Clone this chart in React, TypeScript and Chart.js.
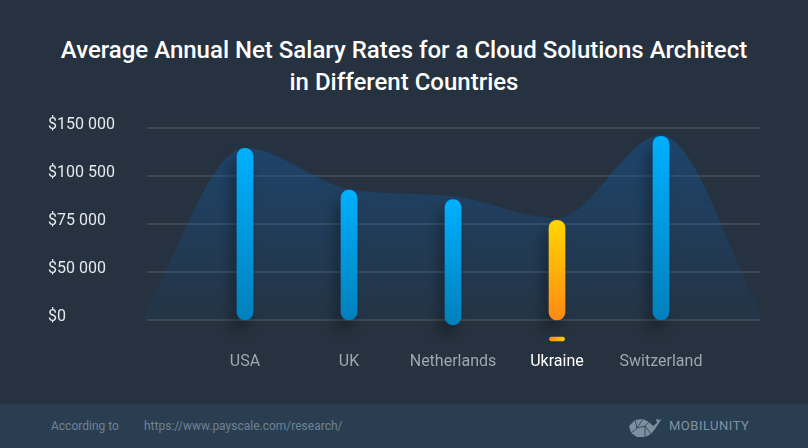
import React, { useEffect, useRef } from "react";
import { Chart, registerables } from "chart.js";

Chart.register(...registerables);

const categories = ["", "USA", "UK", "Netherlands", "Ukraine", "Switzerland", ""];
const salaryTop: (number | null)[] = [null, 129000, 93000, 88000, 77000, 141500, null];
const salaryBase: (number | null)[] = [null, 0, 0, -5000, 0, 0, null];
const trendValues = [0, 129500, 93600, 89800, 78200, 142600, 0];
const markerLow: (number | null)[] = [null, null, null, null, -21900, null, null];
const markerHigh: (number | null)[] = [null, null, null, null, -17700, null, null];
const yTickValues = [0, 50000, 75000, 100500, 150000];
const yTickLabels = ["$0", "$50 000", "$75 000", "$100 500", "$150 000"];
const highlightCategory = "Ukraine";

// map a dollar value onto the evenly spaced (piecewise) axis used by the picture
function toAxis(v: number): number {
  const t = yTickValues;
  if (v <= t[0]) return (v - t[0]) / (t[1] - t[0]);
  for (let i = 0; i < t.length - 1; i++) {
    if (v <= t[i + 1]) return i + (v - t[i]) / (t[i + 1] - t[i]);
  }
  const n = t.length - 1;
  return n + (v - t[n]) / (t[n] - t[n - 1]);
}

const barData = categories.map((_, i) =>
  salaryTop[i] == null ? null : [toAxis(salaryBase[i] as number), toAxis(salaryTop[i] as number)]
);
const markerData = categories.map((_, i) =>
  markerLow[i] == null ? null : [toAxis(markerLow[i] as number), toAxis(markerHigh[i] as number)]
);
const trendData = trendValues.map((v) => toAxis(v));

export default function App() {
  const ref = useRef<HTMLCanvasElement | null>(null);

  useEffect(() => {
    document.body.style.margin = "0";
    Chart.defaults.font.family = "Roboto";
    const canvas = ref.current!;

    const gridPlugin = {
      id: "insetGrid",
      beforeDatasetsDraw(chart: any) {
        const { ctx, chartArea } = chart;
        const y = chart.scales.y;
        ctx.save();
        ctx.strokeStyle = "rgba(255,255,255,0.11)";
        ctx.lineWidth = 2;
        yTickValues.forEach((_, i) => {
          const py = Math.round(y.getPixelForValue(i));
          ctx.beginPath();
          ctx.moveTo(chartArea.left + 6, py);
          ctx.lineTo(chartArea.right - 5, py);
          ctx.stroke();
        });
        ctx.restore();
      },
    };

    const shadowPlugin = {
      id: "barShadow",
      beforeDatasetDraw(chart: any, args: any) {
        if (args.index !== 0) return;
        const ctx = chart.ctx;
        ctx.save();
        ctx.shadowColor = "rgba(0,0,0,0.3)";
        ctx.shadowBlur = 14;
        ctx.shadowOffsetX = -6;
        ctx.shadowOffsetY = 10;
      },
      afterDatasetDraw(chart: any, args: any) {
        if (args.index !== 0) return;
        chart.ctx.restore();
      },
    };

    const chart = new Chart(canvas, {
      type: "bar",
      data: {
        labels: categories,
        datasets: [
          {
            type: "bar",
            data: barData as any,
            grouped: false,
            barThickness: 16,
            borderRadius: 8,
            borderSkipped: false,
            order: 1,
            backgroundColor: (c: any) => {
              const chart = c.chart;
              if (!chart.chartArea || c.type !== "data" || !c.raw) return "#00a0e8";
              const y = chart.scales.y;
              const [a, b] = c.raw;
              const top = y.getPixelForValue(Math.max(a, b));
              const bot = y.getPixelForValue(Math.min(a, b));
              const g = chart.ctx.createLinearGradient(0, top, 0, bot);
              if (categories[c.dataIndex] === highlightCategory) {
                g.addColorStop(0, "#ffd600");
                g.addColorStop(1, "#ff8a14");
              } else {
                g.addColorStop(0, "#00b0ff");
                g.addColorStop(1, "#0080bc");
              }
              return g;
            },
          },
          {
            type: "bar",
            data: markerData as any,
            grouped: false,
            barThickness: 15,
            borderRadius: 2,
            borderSkipped: false,
            order: 2,
            backgroundColor: (c: any) => {
              const chart = c.chart;
              if (!chart.chartArea || c.type !== "data" || !c.raw) return "#ffb000";
              const cx = chart.scales.x.getPixelForValue(c.dataIndex);
              const g = chart.ctx.createLinearGradient(cx - 8, 0, cx + 8, 0);
              g.addColorStop(0, "#ff8c10");
              g.addColorStop(1, "#ffd400");
              return g;
            },
          },
          {
            type: "line",
            data: trendData,
            fill: "origin",
            borderWidth: 0,
            pointRadius: 0,
            cubicInterpolationMode: "monotone",
            order: 3,
            backgroundColor: (c: any) => {
              const chart = c.chart;
              if (!chart.chartArea) return "rgba(20,90,160,0.3)";
              const y = chart.scales.y;
              const g = chart.ctx.createLinearGradient(0, y.getPixelForValue(3.9), 0, y.getPixelForValue(0));
              g.addColorStop(0, "rgba(20,90,160,0.47)");
              g.addColorStop(1, "rgba(20,90,160,0.07)");
              return g;
            },
          } as any,
        ],
      },
      options: {
        animation: false,
        responsive: false,
        layout: { padding: { top: 128, left: 48, right: 43, bottom: 0 } },
        plugins: { legend: { display: false }, tooltip: { enabled: false }, title: { display: false } },
        scales: {
          x: {
            offset: false,
            grid: { display: false, drawTicks: false },
            border: { display: false },
            ticks: {
              autoSkip: false,
              maxRotation: 0,
              padding: 8,
              font: { size: 16, family: "Roboto" },
              color: (c: any) => (categories[c.index] === highlightCategory ? "#ffffff" : "#9ea7b0"),
            },
            afterFit: (s: any) => {
              s.height = 104;
            },
          },
          y: {
            min: -0.5,
            max: 4,
            grid: { display: false, drawTicks: false },
            border: { display: false },
            afterBuildTicks: (s: any) => {
              s.ticks = yTickValues.map((_, i) => ({ value: i }));
            },
            afterFit: (s: any) => {
              s.width = 93;
            },
            ticks: {
              crossAlign: "far",
              padding: 0,
              labelOffset: -3,
              font: { size: 16, family: "Roboto" },
              color: "#e4e8ec",
              callback: (v: any) => yTickLabels[v] ?? "",
            },
          },
        },
      },
      plugins: [gridPlugin, shadowPlugin],
    } as any);

    return () => chart.destroy();
  }, []);

  return (
    <div
      style={{
        position: "absolute",
        left: 0,
        top: 0,
        width: 808,
        height: 448,
        background: "#26323f",
        overflow: "hidden",
        fontFamily: "Roboto, sans-serif",
      }}
    >
      <div
        style={{
          position: "absolute",
          top: 34,
          left: 0,
          width: 808,
          textAlign: "center",
          color: "#ffffff",
          fontSize: 24,
          fontWeight: 500,
          lineHeight: "32px",
        }}
      >
        Average Annual Net Salary Rates for a Cloud Solutions Architect
        <br />
        in Different Countries
      </div>
      <div
        style={{
          position: "absolute",
          top: 404,
          left: 0,
          width: 808,
          height: 44,
          background: "#2a3e51",
        }}
      >
        <span style={{ position: "absolute", left: 51, top: 15, fontSize: 12, color: "#6f8294" }}>
          According to
        </span>
        <span style={{ position: "absolute", left: 144, top: 15, fontSize: 12, color: "#6f8294" }}>
          https://www.payscale.com/research/
        </span>
        <svg
          style={{ position: "absolute", left: 627, top: 12 }}
          width="36"
          height="24"
          viewBox="0 0 36 24"
        >
          <path
            d="M2 10 L8 4 L16 3 L22 6 L26 10 L30 7 L29 3 L33 4 L35 2 L32 7 L28 13 L24 18 L18 21 L10 21 L4 17 Z"
            fill="#7c8fa0"
          />
          <path d="M8 4 L10 12 L16 3 M10 12 L18 10 L22 6 M18 10 L18 21 M10 12 L4 17 M18 10 L24 18" stroke="#2a3e51" strokeWidth="0.8" fill="none" />
        </svg>
        <span
          style={{
            position: "absolute",
            left: 669,
            top: 14,
            fontSize: 13,
            letterSpacing: 0.5,
            color: "#7f92a3",
          }}
        >
          MOBILUNITY
        </span>
      </div>
      <canvas ref={ref} width={808} height={448} style={{ position: "absolute", left: 0, top: 0 }} />
    </div>
  );
}
